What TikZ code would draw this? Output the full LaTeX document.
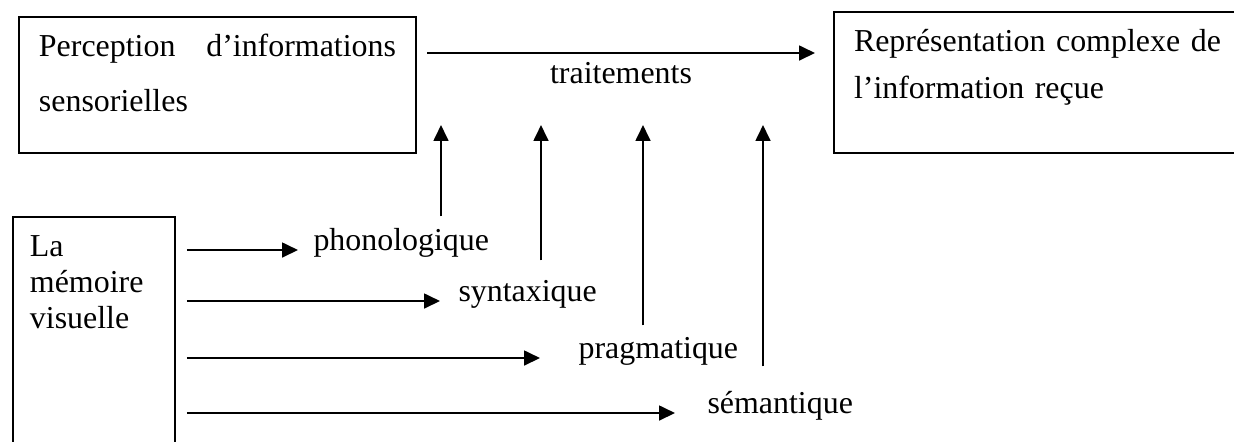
\documentclass[tikz,border=0pt]{standalone}
\usepackage{fontspec}
\setmainfont{Liberation Serif}
\usetikzlibrary{arrows.meta}
\newlength{\pxu}
\setlength{\pxu}{0.01322cm}

\begin{document}
\begin{tikzpicture}[
  x=0.01322cm, y=-0.01322cm,
  >={Triangle[length=6pt,width=5.6pt]},
  font=\fontsize{12}{14}\selectfont,
  box/.style={draw, line width=0.75pt, anchor=north west, inner xsep=20\pxu, inner ysep=0pt, align=left},
  kind/.style={inner sep=0pt, anchor=base west},
  flow/.style={->, line width=0.75pt}
]
\useasboundingbox (0,0) rectangle (1234,441);

\node[box, minimum width=397\pxu, text width=357\pxu, text height=39\pxu, text depth=97\pxu, font=\fontsize{12}{20.7}\selectfont] (percep) at (18,16) {Perception\hfill d’informations\\sensorielles};
\node[box, minimum width=480\pxu, text width=440\pxu, text height=39\pxu, text depth=102\pxu, font=\fontsize{12}{17.7}\selectfont] (repres) at (833,11) {Représentation complexe de\\l’information reçue};
\node[box, inner xsep=17\pxu, minimum width=162\pxu, text width=128\pxu, text height=39\pxu, text depth=240\pxu, font=\fontsize{12}{13.7}\selectfont] (memo) at (12,216) {La\\mémoire\\visuelle};

\draw[flow] ([shift={(10,37)}]percep.north east) -- node[below, inner sep=3pt] {traitements} ([shift={(-18,42)}]repres.north west);

% niveaux de traitement
\node[kind] (phono) at (313,250) {phonologique};
\node[kind] (syntax) at (458,301) {syntaxique};
\node[kind] (pragma) at (578,358) {pragmatique};
\node[kind] (seman) at (707,413) {sémantique};

\coordinate (up1) at (441,125);
\coordinate (up2) at (541,125);
\coordinate (up3) at (643,125);
\coordinate (up4) at (763,125);

\foreach \lab/\up/\hgap/\vgap in {phono/up1/15/11, syntax/up2/18/19, pragma/up3/38/11, seman/up4/32/24} {
  \draw[flow, shorten <=11\pxu, shorten >=\hgap\pxu] (memo.east |- \lab.base) -- (\lab.base west);
  \draw[flow, shorten <=\vgap\pxu] (\lab.north -| \up) -- (\up);
}
\end{tikzpicture}
\end{document}
